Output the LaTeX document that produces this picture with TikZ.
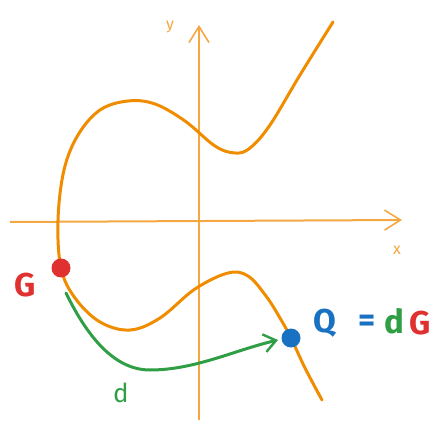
\documentclass[tikz,border=0pt]{standalone}
\usepackage{fontspec}
\setmainfont{Fira Sans}
\usetikzlibrary{arrows.meta}
\definecolor{curveorange}{HTML}{F08C00}
\definecolor{axisorange}{HTML}{F5A742}
\definecolor{ptred}{HTML}{E03131}
\definecolor{ptblue}{HTML}{1971C2}
\definecolor{mulgreen}{HTML}{2F9E44}

\begin{document}
\begin{tikzpicture}
   [x=1pt,y=-1pt,every node/.style={draw=none,inner sep = 0pt},
    axis/.style={axisorange,line width=2pt,-{Straight Barb[length=16pt,width=20pt,line width=1.6pt]}},
    pt/.style={circle,minimum size=19pt},
    lbl/.style={font=\fontsize{33}{33}\selectfont\bfseries},
    small/.style={font=\fontsize{16}{16}\selectfont}]

\useasboundingbox (0,0) rectangle (436,435);

%%%%%%%%%%%%%%%%%%%%%%%%%%%%%%%%%%%%%%%%%%%%%%%%%%%%%%%%%%%%%%%
% Axes
%%%%%%%%%%%%%%%%%%%%%%%%%%%%%%%%%%%%%%%%%%%%%%%%%%%%%%%%%%%%%%%

\coordinate (xstart) at (10,222);
\coordinate (xend) at (402,220);
\coordinate (ystart) at (199,420);
\coordinate (yend) at (199,25);
	\draw[axis] (xstart) -- (xend);
	\draw[axis] (ystart) -- (yend);

\node[small,axisorange] (xlab) at (397,250) {x};
\node[small,axisorange] (ylab) at (170,27) {y};

%%%%%%%%%%%%%%%%%%%%%%%%%%%%%%%%%%%%%%%%%%%%%%%%%%%%%%%%%%%%%%%
% Curve
%%%%%%%%%%%%%%%%%%%%%%%%%%%%%%%%%%%%%%%%%%%%%%%%%%%%%%%%%%%%%%%

\draw[curveorange, line width=3pt, line cap=round, line join=round]
	plot[smooth, tension=0.6] coordinates {
	(333,22) (300,75) (270,125) (250,148) (235,153) (215,146) (185,121)
	(155,104) (128,101) (100,110) (78,135) (64,170) (58,220) (61,268)
	(75,298) (100,322) (130,330) (160,318) (195,289) (228,273) (248,276)
	(266,296) (280,318) (291,338) (305,368) (322,400)};

%%%%%%%%%%%%%%%%%%%%%%%%%%%%%%%%%%%%%%%%%%%%%%%%%%%%%%%%%%%%%%%
% Points G and Q = dG
%%%%%%%%%%%%%%%%%%%%%%%%%%%%%%%%%%%%%%%%%%%%%%%%%%%%%%%%%%%%%%%

\node[pt,fill=ptred] (G) at (61,268) {};
\node[pt,fill=ptblue] (Q) at (291,338) {};

\node[lbl,ptred] (Glab) at (25,285) {G};
\node[lbl,ptblue] (Qlab) at (325,323) {Q};
\node[lbl,ptblue] (eq) at (367,323) {=};
\node[lbl,mulgreen] (dlab) at (394,321) {d};
\node[lbl,ptred] (Glab2) at (420,323) {G};

%%%%%%%%%%%%%%%%%%%%%%%%%%%%%%%%%%%%%%%%%%%%%%%%%%%%%%%%%%%%%%%
% Scalar multiplication arrow
%%%%%%%%%%%%%%%%%%%%%%%%%%%%%%%%%%%%%%%%%%%%%%%%%%%%%%%%%%%%%%%

\coordinate (mulstart) at (66,293);
\coordinate (mulend) at (278,340);
	\draw[mulgreen, line width=3pt, line cap=round,
	  -{Straight Barb[length=12pt,width=18pt,line width=2.4pt]}]
	  (mulstart) .. controls (88,338) and (115,370) .. (150,370)
	  .. controls (195,370) and (235,350) .. (mulend);

\node[mulgreen,font=\fontsize{26}{26}\selectfont] (dmul) at (121,393) {d};

\end{tikzpicture}
\end{document}
